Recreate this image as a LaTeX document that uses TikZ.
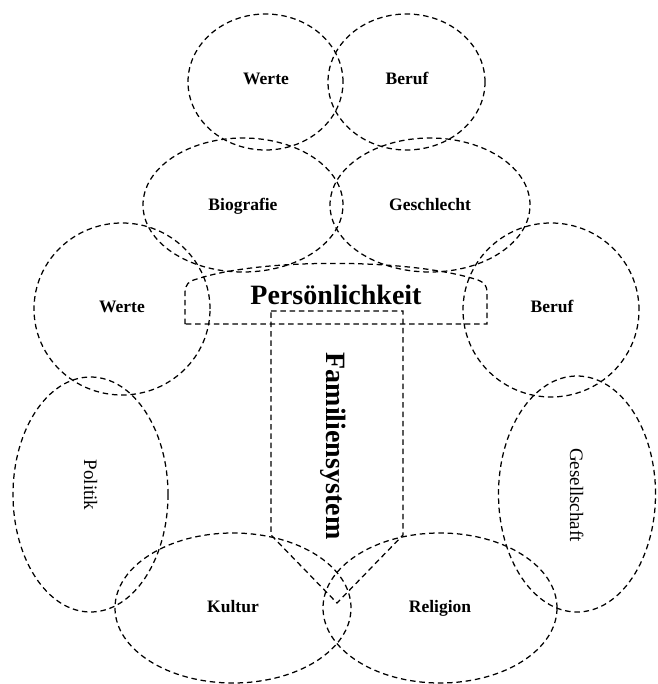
\documentclass[tikz,border=0pt]{standalone}
\usepackage{fontspec}
\setmainfont{Liberation Serif}
\usetikzlibrary{shapes.geometric}
\begin{document}
\begin{tikzpicture}[x=1pt,y=-1pt,
  dsh/.style={draw=black, line width=1.25pt, dash pattern=on 5.5pt off 3.8pt},
  bub/.style={dsh, ellipse, inner sep=0pt},
  lbl/.style={anchor=base, font=\bfseries\fontsize{17.5}{20}\selectfont, inner sep=0pt},
  vlbl/.style={anchor=base, rotate=-90, font=\fontsize{19}{22}\selectfont, inner sep=0pt},
  big/.style={anchor=base, font=\bfseries\fontsize{28}{32}\selectfont, inner sep=0pt}]
\useasboundingbox (0,0) rectangle (657,684);

% ellipses
\node[bub, minimum width=155pt, minimum height=136pt] (eWt) at (265.5,82) {};
\node[bub, minimum width=157pt, minimum height=136pt] (eBt) at (406.5,82) {};
\node[bub, minimum width=200pt, minimum height=134pt] (eBio) at (243,205) {};
\node[bub, minimum width=200pt, minimum height=134pt] (eGes) at (430,205) {};
\node[bub, minimum width=176pt, minimum height=172pt] (eWl) at (122,309) {};
\node[bub, minimum width=176pt, minimum height=174pt] (eBr) at (551,310) {};
\node[bub, minimum width=155pt, minimum height=235pt] (ePol) at (90.5,494.5) {};
\node[bub, minimum width=157pt, minimum height=236pt] (eGsl) at (577,494) {};
\node[bub, minimum width=236pt, minimum height=150pt] (eKul) at (233,608) {};
\node[bub, minimum width=234pt, minimum height=150pt] (eRel) at (440,608) {};

% Persoenlichkeit shape
\draw[dsh] (185,324) -- (185,293) .. controls (185,284) and (189,281) .. (197,279)
  .. controls (260,258) and (410,258) .. (478,280)
  .. controls (485,283) and (487,286) .. (487,293) -- (487,324) -- cycle;
% Familiensystem shape
\draw[dsh] (271,311) -- (403,311) -- (403,535) -- (337,603) -- (271,535) -- cycle;

% labels
\node[lbl] (tWt) at (266,85) {Werte};
\node[lbl] (tBt) at (407,85) {Beruf};
\node[lbl] (tBio) at (243,211) {Biografie};
\node[lbl] (tGes) at (430,211) {Geschlecht};
\node[lbl] (tWl) at (122,312) {Werte};
\node[lbl] (tBr) at (552,312) {Beruf};
\node[lbl] (tKul) at (233,612) {Kultur};
\node[lbl] (tRel) at (440,612) {Religion};
\node[vlbl] (tPol) at (84,485) {Politik};
\node[vlbl] (tGsl) at (570,495) {Gesellschaft};
\node[big] (tPer) at (336,304) {Persönlichkeit};
\node[big, rotate=-90] (tFam) at (326,446) {Familiensystem};
\end{tikzpicture}
\end{document}
